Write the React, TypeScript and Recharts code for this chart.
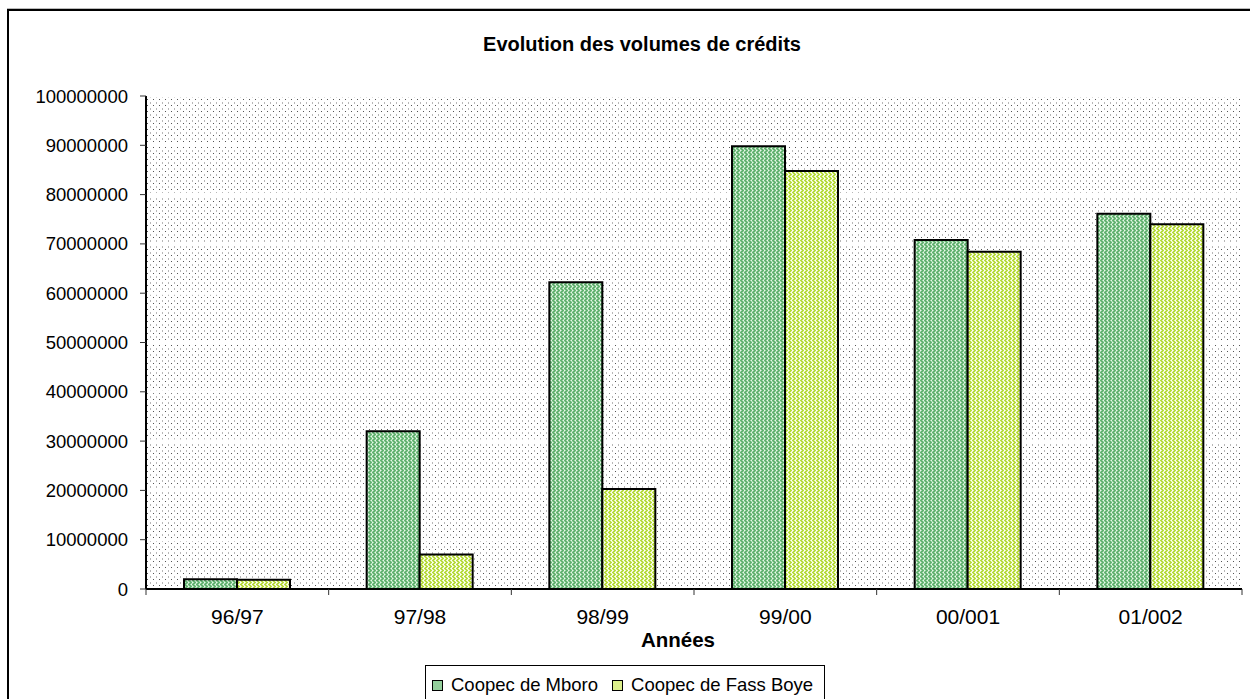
import React from 'react';
import { BarChart, Bar, XAxis, YAxis, CartesianGrid } from 'recharts';

const categories = ['96/97', '97/98', '98/99', '99/00', '00/001', '01/002'];
const mboro = [2000000, 32000000, 62200000, 89800000, 70800000, 76100000];
const fassBoye = [1900000, 7000000, 20300000, 84800000, 68400000, 74000000];
const yTicks = [0, 10000000, 20000000, 30000000, 40000000, 50000000, 60000000, 70000000, 80000000, 90000000, 100000000];
const seriesNames = ['Coopec de Mboro', 'Coopec de Fass Boye'];
const seriesColors = ['#94cf9c', '#dcef8c'];

const data = categories.map((c, i) => ({ year: c, mboro: mboro[i], fass: fassBoye[i] }));

const W = 1250;
const H = 699;
const MARGIN = { top: 96, right: 8, bottom: 0, left: 0 };
const Y_AXIS_W = 146;
const X_AXIS_H = 110;
const PLOT_W = W - MARGIN.left - MARGIN.right - Y_AXIS_W;
const FONT = '"Liberation Sans", Arial, Helvetica, sans-serif';

const XTick = (props: any) => {
  const { x, y, payload, index } = props;
  const half = payload && typeof payload.offset === 'number' && payload.offset > 0 ? payload.offset : PLOT_W / categories.length / 2;
  const last = index === categories.length - 1;
  return (
    <g>
      <line x1={x - half} y1={y} x2={x - half} y2={y + 6} stroke="#333" strokeWidth={1} />
      {last && <line x1={x + half} y1={y} x2={x + half} y2={y + 6} stroke="#333" strokeWidth={1} />}
      <text x={x} y={y + 35} textAnchor="middle" fontSize={21} fontFamily={FONT} fill="#000">
        {payload.value}
      </text>
    </g>
  );
};

const YTick = (props: any) => {
  const { x, y, payload } = props;
  return (
    <text x={x} y={y} dy={6.5} textAnchor="end" fontSize={18.5} fontFamily={FONT} fill="#000">
      {payload.value}
    </text>
  );
};

export default function App() {
  return (
    <div style={{ position: 'absolute', left: 0, top: 0, width: W, height: H, overflow: 'hidden', background: '#fff', fontFamily: FONT }}>
      <div style={{ position: 'absolute', left: 7, top: 8, width: 1300, height: 800, borderTop: '1px solid #bbb' }} />
      <div style={{ position: 'absolute', left: 7, top: 9, width: 1300, height: 800, border: '2px solid #000', boxSizing: 'border-box' }} />
      <div style={{ position: 'absolute', left: 0, top: 0 }}>
        <BarChart width={W} height={H} data={data} margin={MARGIN} barGap={0} barSize={53}>
          <defs>
            <pattern id="bgDots" width="6" height="6" patternUnits="userSpaceOnUse">
              <rect width="6" height="6" fill="#fff" />
              <rect x="0" y="0" width="1" height="2" fill="#b8b8b8" />
              <rect x="3" y="3" width="1" height="1" fill="#555" />
            </pattern>
            <pattern id="pMboro" width="4" height="4" patternUnits="userSpaceOnUse">
              <rect width="4" height="4" fill="#a9dcb0" />
              <rect x="0" y="0" width="2" height="1" fill="#62b070" />
              <rect x="1" y="1" width="2" height="1" fill="#62b070" />
              <rect x="2" y="2" width="2" height="1" fill="#62b070" />
              <rect x="1" y="3" width="2" height="1" fill="#62b070" />
              <rect x="3" y="0" width="1" height="1" fill="#e8f6ea" />
              <rect x="0" y="2" width="1" height="1" fill="#e8f6ea" />
            </pattern>
            <pattern id="pFass" width="4" height="4" patternUnits="userSpaceOnUse">
              <rect width="4" height="4" fill="#eef8c4" />
              <rect x="0" y="0" width="2" height="1" fill="#b5d93a" />
              <rect x="1" y="1" width="2" height="1" fill="#b5d93a" />
              <rect x="2" y="2" width="2" height="1" fill="#b5d93a" />
              <rect x="1" y="3" width="2" height="1" fill="#b5d93a" />
              <rect x="3" y="0" width="1" height="1" fill="#ffffff" />
              <rect x="0" y="2" width="1" height="1" fill="#ffffff" />
            </pattern>
          </defs>
          <CartesianGrid vertical={false} horizontal={true} stroke="#fff" strokeWidth={3} fill="url(#bgDots)" fillOpacity={1} />
          <XAxis
            dataKey="year"
            height={X_AXIS_H}
            axisLine={{ stroke: '#000', strokeWidth: 2 }}
            tickLine={false}
            tickSize={0}
            tickMargin={0}
            tick={<XTick />}
            interval={0}
          />
          <XAxis xAxisId="top" dataKey="year" orientation="top" height={0} tick={false} tickLine={false} axisLine={{ stroke: '#333', strokeWidth: 1 }} />
          <YAxis
            width={Y_AXIS_W}
            domain={[0, 100000000]}
            ticks={yTicks}
            interval={0}
            axisLine={{ stroke: '#000', strokeWidth: 2 }}
            tickLine={{ stroke: '#333', strokeWidth: 1 }}
            tickSize={6}
            tickMargin={12}
            tick={<YTick />}
          />
          <YAxis yAxisId="right" orientation="right" width={0} domain={[0, 100000000]} tick={false} tickLine={false} axisLine={{ stroke: '#222', strokeWidth: 2 }} />
          <Bar dataKey="mboro" name={seriesNames[0]} fill="url(#pMboro)" stroke="#000" strokeWidth={2} isAnimationActive={false} />
          <Bar dataKey="fass" name={seriesNames[1]} fill="url(#pFass)" stroke="#000" strokeWidth={2} isAnimationActive={false} />
        </BarChart>
      </div>
      <div style={{ position: 'absolute', left: 392, top: 33, width: 500, textAlign: 'center', fontSize: 20, fontWeight: 'bold', color: '#000', whiteSpace: 'nowrap' }}>
        Evolution des volumes de crédits
      </div>
      <div style={{ position: 'absolute', left: 578, top: 628, width: 200, textAlign: 'center', fontSize: 20.5, fontWeight: 'bold', color: '#000' }}>
        Années
      </div>
      <div style={{ position: 'absolute', left: 425, top: 665, width: 400, height: 60, border: '1px solid #000', boxSizing: 'border-box', display: 'flex', alignItems: 'flex-start', paddingLeft: 6, paddingTop: 8, whiteSpace: 'nowrap' }}>
        {seriesNames.map((n, i) => (
          <div key={n} style={{ display: 'flex', alignItems: 'center', marginRight: 14 }}>
            <div style={{ width: 9, height: 9, border: '1px solid #000', background: seriesColors[i], marginRight: 8 }} />
            <span style={{ fontSize: 18.5, color: '#000' }}>{n}</span>
          </div>
        ))}
      </div>
    </div>
  );
}
